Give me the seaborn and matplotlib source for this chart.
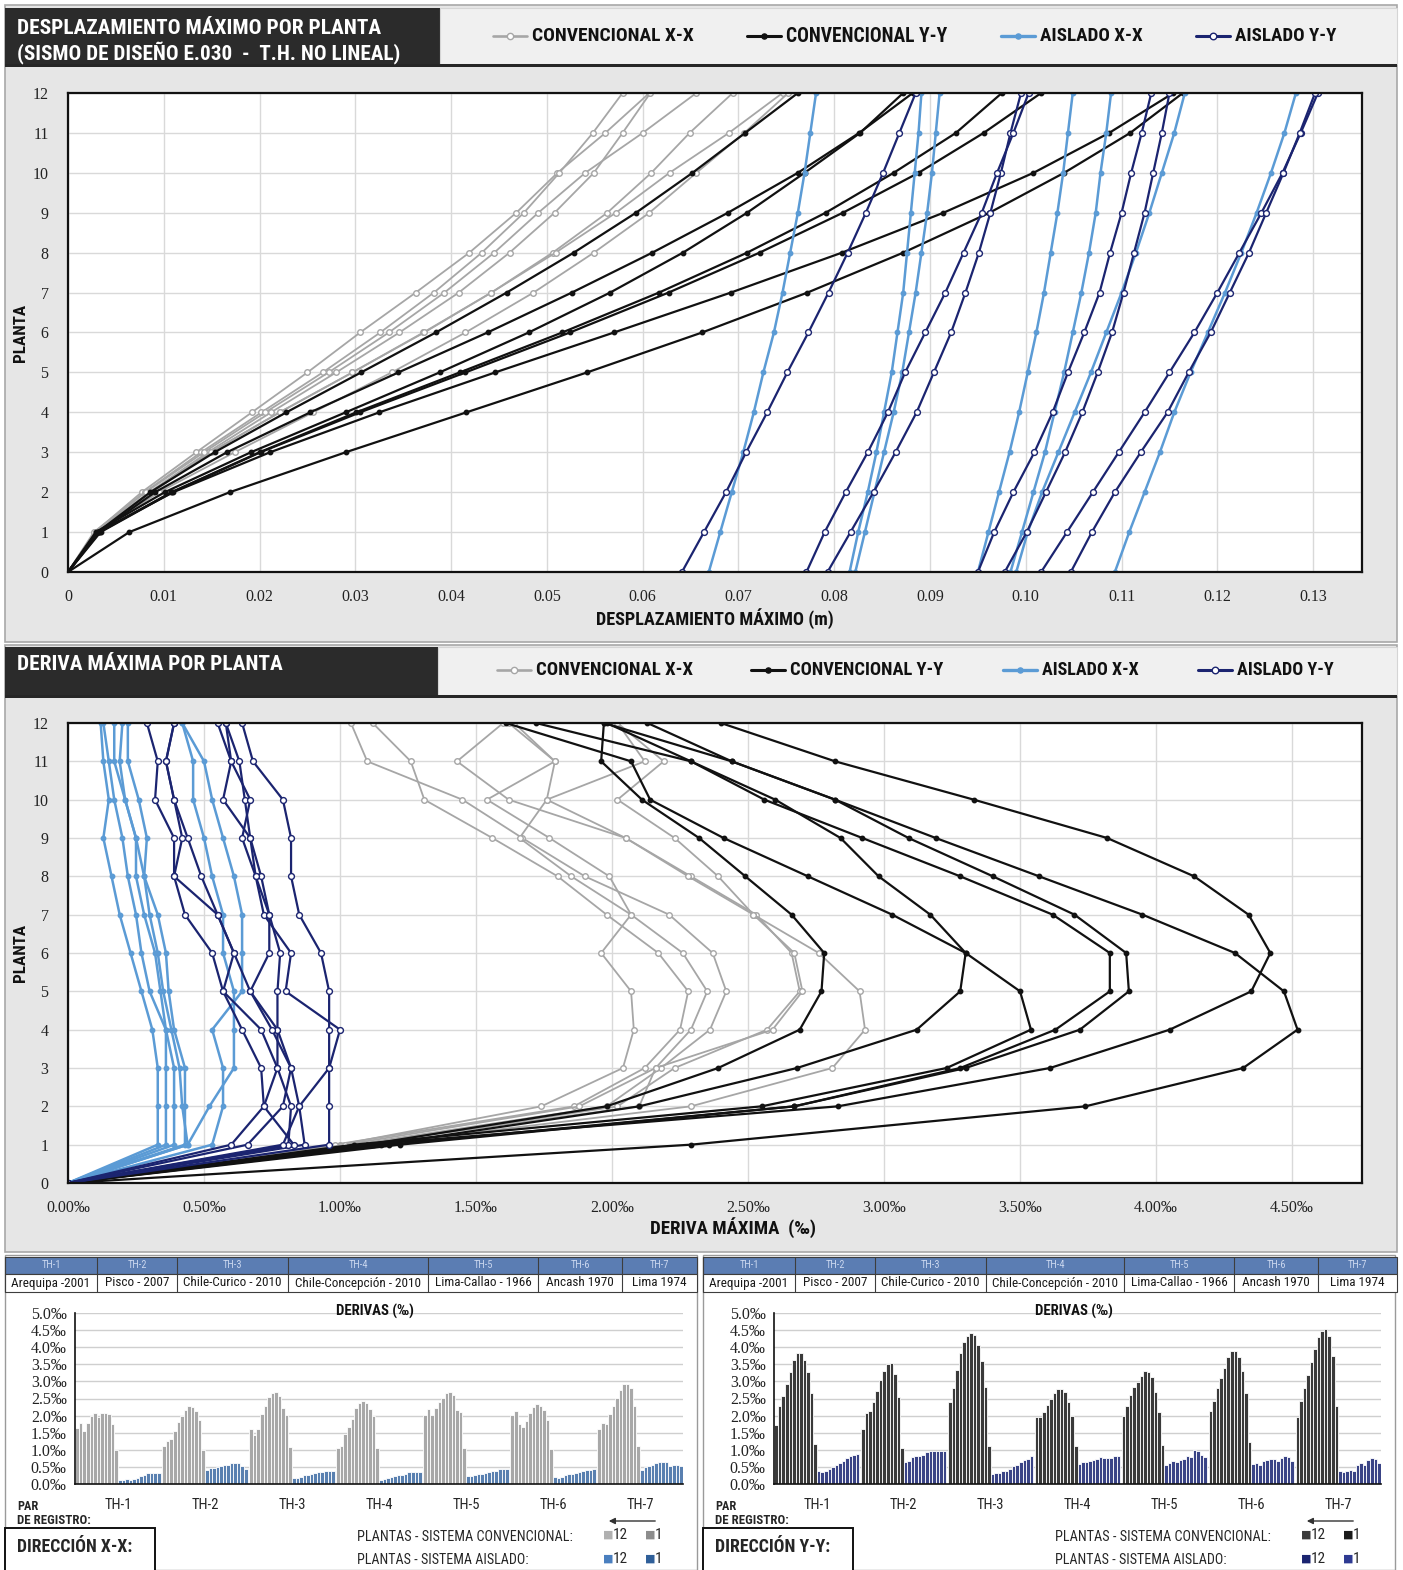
import numpy as np
import pandas as pd
import seaborn as sns
import matplotlib
matplotlib.use("Agg")
import matplotlib.pyplot as plt
from matplotlib import font_manager as fm
from matplotlib.patches import Rectangle, FancyArrowPatch
from matplotlib.lines import Line2D
from matplotlib.ticker import FuncFormatter, MultipleLocator

# ------------------------------------------------------------
# DATOS
# ------------------------------------------------------------
registros = ["TH-1", "TH-2", "TH-3", "TH-4", "TH-5", "TH-6", "TH-7"]
sismos = ["Arequipa -2001", "Pisco - 2007", "Chile-Curico - 2010", "Chile-Concepción - 2010",
          "Lima-Callao - 1966", "Ancash 1970", "Lima 1974"]
plantas = list(range(13))  # 0 .. 12

# derivas (‰), plantas 1..12
deriva_conv_xx = [
    [1.00, 1.74, 2.04, 2.08, 2.07, 1.96, 2.07, 1.99, 1.77, 1.54, 1.79, 1.64],
    [0.98, 1.86, 2.12, 2.25, 2.28, 2.17, 1.98, 1.80, 1.56, 1.31, 1.26, 1.12],
    [1.08, 2.02, 2.23, 2.57, 2.69, 2.66, 2.53, 2.29, 2.05, 1.62, 1.43, 1.60],
    [1.05, 1.98, 2.18, 2.36, 2.42, 2.37, 2.21, 1.90, 1.67, 1.45, 1.10, 1.04],
    [1.06, 2.10, 2.16, 2.59, 2.70, 2.67, 2.52, 2.39, 2.23, 2.02, 2.19, 2.02],
    [1.02, 1.88, 2.16, 2.29, 2.35, 2.26, 2.07, 1.85, 1.66, 1.76, 2.12, 2.02],
    [1.12, 2.29, 2.81, 2.93, 2.91, 2.76, 2.52, 2.28, 2.05, 1.76, 1.79, 1.62],
]
deriva_conv_yy = [
    [1.18, 2.67, 3.28, 3.63, 3.83, 3.83, 3.62, 3.28, 2.92, 2.56, 2.29, 1.72],
    [1.05, 2.55, 3.23, 3.54, 3.50, 3.30, 3.03, 2.72, 2.41, 2.14, 2.07, 1.61],
    [1.10, 2.83, 3.61, 4.05, 4.35, 4.42, 4.34, 4.14, 3.82, 3.33, 2.82, 2.40],
    [1.10, 1.98, 2.39, 2.69, 2.77, 2.78, 2.66, 2.49, 2.32, 2.11, 1.96, 1.97],
    [1.15, 2.10, 2.68, 3.12, 3.28, 3.30, 3.17, 2.98, 2.84, 2.60, 2.29, 1.98],
    [1.22, 2.67, 3.30, 3.72, 3.90, 3.89, 3.70, 3.40, 3.09, 2.82, 2.44, 2.13],
    [2.29, 3.74, 4.32, 4.52, 4.47, 4.29, 3.95, 3.57, 3.19, 2.82, 2.44, 1.97],
]
deriva_ais_xx = [
    [0.33, 0.33, 0.33, 0.31, 0.27, 0.23, 0.19, 0.16, 0.13, 0.15, 0.13, 0.12],
    [0.44, 0.52, 0.61, 0.61, 0.61, 0.57, 0.57, 0.53, 0.50, 0.46, 0.46, 0.42],
    [0.39, 0.39, 0.39, 0.36, 0.34, 0.32, 0.28, 0.25, 0.25, 0.21, 0.17, 0.17],
    [0.36, 0.36, 0.36, 0.36, 0.30, 0.27, 0.25, 0.22, 0.20, 0.17, 0.15, 0.13],
    [0.43, 0.43, 0.43, 0.39, 0.37, 0.36, 0.33, 0.28, 0.29, 0.26, 0.22, 0.22],
    [0.44, 0.42, 0.41, 0.38, 0.35, 0.33, 0.30, 0.28, 0.25, 0.21, 0.19, 0.20],
    [0.53, 0.57, 0.57, 0.53, 0.64, 0.64, 0.64, 0.61, 0.57, 0.53, 0.50, 0.42],
]
deriva_ais_yy = [
    [0.87, 0.85, 0.82, 0.77, 0.67, 0.61, 0.55, 0.49, 0.44, 0.39, 0.36, 0.39],
    [0.96, 0.96, 0.96, 0.96, 0.96, 0.93, 0.85, 0.82, 0.82, 0.79, 0.68, 0.64],
    [0.83, 0.72, 0.71, 0.64, 0.57, 0.53, 0.43, 0.39, 0.39, 0.32, 0.33, 0.29],
    [0.81, 0.82, 0.77, 0.77, 0.77, 0.78, 0.74, 0.71, 0.67, 0.65, 0.63, 0.58],
    [0.79, 0.85, 0.96, 1.00, 0.80, 0.82, 0.72, 0.69, 0.64, 0.67, 0.60, 0.55],
    [0.66, 0.79, 0.82, 0.75, 0.67, 0.74, 0.74, 0.69, 0.67, 0.57, 0.60, 0.58],
    [0.60, 0.72, 0.77, 0.71, 0.57, 0.61, 0.55, 0.39, 0.42, 0.39, 0.36, 0.39],
]

# desplazamientos (m), plantas 0..12
desp_conv_xx = [
    [0, 0.0028, 0.0077, 0.0134, 0.0192, 0.0250, 0.0305, 0.0363, 0.0419, 0.0468, 0.0511, 0.0561, 0.0607],
    [0, 0.0027, 0.0080, 0.0139, 0.0202, 0.0266, 0.0326, 0.0382, 0.0432, 0.0476, 0.0513, 0.0548, 0.0579],
    [0, 0.0030, 0.0087, 0.0149, 0.0221, 0.0297, 0.0371, 0.0442, 0.0506, 0.0563, 0.0609, 0.0649, 0.0694],
    [0, 0.0029, 0.0085, 0.0146, 0.0212, 0.0280, 0.0346, 0.0408, 0.0461, 0.0508, 0.0549, 0.0579, 0.0608],
    [0, 0.0030, 0.0088, 0.0149, 0.0221, 0.0297, 0.0372, 0.0442, 0.0509, 0.0572, 0.0628, 0.0690, 0.0746],
    [0, 0.0029, 0.0081, 0.0142, 0.0206, 0.0272, 0.0335, 0.0393, 0.0445, 0.0491, 0.0540, 0.0600, 0.0656],
    [0, 0.0031, 0.0095, 0.0174, 0.0256, 0.0338, 0.0415, 0.0486, 0.0549, 0.0607, 0.0656, 0.0706, 0.0752],
]
desp_conv_yy = [
    [0, 0.0033, 0.0108, 0.0200, 0.0301, 0.0409, 0.0516, 0.0617, 0.0709, 0.0791, 0.0862, 0.0927, 0.0975],
    [0, 0.0029, 0.0101, 0.0191, 0.0290, 0.0388, 0.0481, 0.0566, 0.0642, 0.0709, 0.0769, 0.0827, 0.0872],
    [0, 0.0031, 0.0110, 0.0211, 0.0325, 0.0446, 0.0570, 0.0692, 0.0808, 0.0914, 0.1008, 0.1087, 0.1154],
    [0, 0.0031, 0.0086, 0.0153, 0.0228, 0.0306, 0.0384, 0.0458, 0.0528, 0.0593, 0.0652, 0.0707, 0.0762],
    [0, 0.0032, 0.0091, 0.0166, 0.0253, 0.0345, 0.0438, 0.0526, 0.0610, 0.0689, 0.0762, 0.0826, 0.0882],
    [0, 0.0034, 0.0109, 0.0201, 0.0305, 0.0415, 0.0524, 0.0627, 0.0722, 0.0809, 0.0888, 0.0956, 0.1016],
    [0, 0.0064, 0.0169, 0.0290, 0.0416, 0.0542, 0.0662, 0.0772, 0.0872, 0.0962, 0.1040, 0.1109, 0.1164],
]
desp_ais_xx = [
    [0.0816, 0.0825, 0.0835, 0.0844, 0.0852, 0.0860, 0.0866, 0.0872, 0.0876, 0.0880, 0.0884, 0.0888, 0.0891],
    [0.0990, 0.1002, 0.1017, 0.1034, 0.1051, 0.1068, 0.1084, 0.1100, 0.1115, 0.1129, 0.1142, 0.1155, 0.1166],
    [0.0950, 0.0961, 0.0972, 0.0983, 0.0993, 0.1002, 0.1011, 0.1019, 0.1026, 0.1033, 0.1039, 0.1044, 0.1049],
    [0.0822, 0.0832, 0.0842, 0.0852, 0.0862, 0.0871, 0.0878, 0.0885, 0.0891, 0.0897, 0.0902, 0.0906, 0.0910],
    [0.0669, 0.0681, 0.0693, 0.0705, 0.0716, 0.0726, 0.0737, 0.0746, 0.0754, 0.0762, 0.0769, 0.0775, 0.0781],
    [0.0984, 0.0996, 0.1008, 0.1020, 0.1030, 0.1040, 0.1049, 0.1058, 0.1066, 0.1073, 0.1078, 0.1084, 0.1089],
    [0.1093, 0.1108, 0.1124, 0.1140, 0.1155, 0.1172, 0.1190, 0.1208, 0.1225, 0.1241, 0.1256, 0.1270, 0.1282],
]
desp_ais_yy = [
    [0.0793, 0.0817, 0.0841, 0.0864, 0.0886, 0.0904, 0.0922, 0.0937, 0.0951, 0.0963, 0.0974, 0.0984, 0.0995],
    [0.1016, 0.1043, 0.1070, 0.1097, 0.1124, 0.1150, 0.1176, 0.1200, 0.1223, 0.1246, 0.1268, 0.1287, 0.1305],
    [0.0978, 0.1001, 0.1021, 0.1041, 0.1059, 0.1075, 0.1090, 0.1102, 0.1113, 0.1124, 0.1133, 0.1142, 0.1150],
    [0.0641, 0.0664, 0.0687, 0.0708, 0.0730, 0.0751, 0.0773, 0.0794, 0.0814, 0.0833, 0.0851, 0.0868, 0.0885],
    [0.1047, 0.1069, 0.1093, 0.1120, 0.1148, 0.1170, 0.1193, 0.1213, 0.1233, 0.1251, 0.1269, 0.1286, 0.1302],
    [0.0771, 0.0790, 0.0812, 0.0835, 0.0856, 0.0874, 0.0895, 0.0916, 0.0935, 0.0954, 0.0970, 0.0987, 0.1003],
    [0.0950, 0.0967, 0.0987, 0.1009, 0.1028, 0.1044, 0.1061, 0.1077, 0.1088, 0.1100, 0.1110, 0.1121, 0.1131],
]

# ------------------------------------------------------------
# ESTILO / FUENTES
# ------------------------------------------------------------
sns.set_theme(style="white")

entries = [(f.name, f.stretch) for f in fm.fontManager.ttflist]
names = {n for n, _ in entries}
NARROW_NAME, STRETCH = "Liberation Sans", "normal"
for cand in ["Liberation Sans Narrow", "Roboto Condensed", "Open Sans Condensed",
             "Noto Sans Condensed", "DejaVu Sans Condensed", "Arial Narrow"]:
    if cand in names:
        NARROW_NAME = cand
        break
else:
    for fam in ["Noto Sans", "Roboto", "Open Sans", "DejaVu Sans"]:
        if (fam, "condensed") in entries:
            NARROW_NAME, STRETCH = fam, "condensed"
            break
NARROW = [NARROW_NAME, "DejaVu Sans"]
SERIF = ["Liberation Serif", "DejaVu Serif"]
plt.rcParams["font.family"] = NARROW
plt.rcParams["font.stretch"] = STRETCH

C_CXX = "#a6a6a6"
C_CYY = "#111111"
C_AXX = "#5b9bd5"
C_AYY = "#1b2470"
GRID = "#d9d9d9"

W, H = 1403, 1570
fig = plt.figure(figsize=(W / 100, H / 100), dpi=100)
fig.patch.set_facecolor("white")
renderer = fig.canvas.get_renderer()


def fx(x):
    return x / W


def fy(y):
    return 1 - y / H


def box(x0, y0, x1, y1, fc, ec="none", lw=0.0, z=-2):
    fig.add_artist(Rectangle((fx(x0), fy(y1)), (x1 - x0) / W, (y1 - y0) / H,
                             transform=fig.transFigure, facecolor=fc,
                             edgecolor=ec, linewidth=lw, zorder=z))


def txt(x, y, s, width=None, size=10, rot=0, **kw):
    kw.setdefault("family", NARROW)
    kw.setdefault("fontstretch", STRETCH)
    t = fig.text(fx(x), fy(y), s, fontsize=size, **kw)
    if width is not None:
        w = t.get_window_extent(renderer).width
        if w > 0:
            t.set_fontsize(size * width / w)
    if rot:
        t.set_rotation(rot)
    return t


def axes_px(x0, y0, x1, y1):
    return fig.add_axes([fx(x0), fy(y1), (x1 - x0) / W, (y1 - y0) / H])


def to_long(nested):
    rows = []
    for reg, vals in zip(registros, nested):
        for p, v in zip(plantas, vals):
            rows.append((reg, p, v))
    return pd.DataFrame(rows, columns=["registro", "planta", "valor"])


series_style = [
    (C_CXX, 1.3, "white", 4.0),
    (C_CYY, 1.6, C_CYY, 3.2),
    (C_AXX, 1.8, C_AXX, 3.2),
    (C_AYY, 1.6, "white", 4.2),
]


def draw_lines(ax, datasets):
    for data, (c, lw, mfc, ms) in zip(datasets, series_style):
        sns.lineplot(data=to_long(data), x="valor", y="planta", units="registro",
                     estimator=None, sort=False, orient="y", color=c, lw=lw,
                     marker="o", ms=ms, mfc=mfc, mec=c, mew=1.0, legend=False, ax=ax)


def style_line_axes(ax, xmax, step, fmt):
    ax.set_facecolor("white")
    ax.set_xlim(0, xmax)
    ax.set_ylim(0, 12)
    ax.xaxis.set_major_locator(MultipleLocator(step))
    ax.yaxis.set_major_locator(MultipleLocator(1))
    ax.xaxis.set_major_formatter(FuncFormatter(fmt))
    ax.grid(True, color=GRID, lw=1.0)
    ax.set_axisbelow(True)
    for s in ax.spines.values():
        s.set_color("#111111")
        s.set_linewidth(1.6)
    ax.tick_params(axis="x", length=4, color="#555555", pad=8)
    ax.tick_params(axis="y", length=0, pad=14)
    for lab in ax.get_xticklabels() + ax.get_yticklabels():
        lab.set_family(SERIF)
        lab.set_fontstretch("normal")
        lab.set_fontsize(11.5)
        lab.set_color("#222222")
    ax.set_xlabel("")
    ax.set_ylabel("")


def legend_strip(y, items):
    for (x0, x1, label), (c, lw, mfc, ms) in zip(items, series_style):
        fig.add_artist(Line2D([fx(x0), fx(x0 + 17), fx(x0 + 34)], [fy(y)] * 3,
                              transform=fig.transFigure, color=c, lw=lw + 0.6,
                              marker="o", markevery=[1], ms=ms + 0.5, mfc=mfc,
                              mec=c, zorder=3))
        txt(x0 + 39, y, label, width=x1 - x0 - 39, size=14, fontweight="bold",
            va="center", color="#111111", zorder=3)


# ------------------------------------------------------------
# 1. DESPLAZAMIENTO MAXIMO POR PLANTA
# ------------------------------------------------------------
box(5, 5, 1397, 642, "#e6e6e6", ec="#a8a8a8", lw=1.2)
box(5, 8, 440, 64, "#2b2b2b")
box(440, 8, 1397, 64, "#f0f0f0", ec="#d5d5d5", lw=0.8)
box(5, 64, 1397, 66.5, "#262626")
txt(17, 28, "DESPLAZAMIENTO MÁXIMO POR PLANTA", width=365, size=15, color="white",
    fontweight="bold", va="center")
txt(17, 53, "(SISMO DE DISEÑO E.030  -  T.H. NO LINEAL)", width=384, size=15, color="white",
    fontweight="bold", va="center")
legend_strip(36, [(493, 694, "CONVENCIONAL X-X"), (747, 948, "CONVENCIONAL Y-Y"),
                  (1001, 1143, "AISLADO X-X"), (1196, 1337, "AISLADO Y-Y")])

ax1 = axes_px(68, 93, 1362, 572)
draw_lines(ax1, [desp_conv_xx, desp_conv_yy, desp_ais_xx, desp_ais_yy])
style_line_axes(ax1, 0.1351, 0.01, lambda v, p: "0" if abs(v) < 1e-9 else f"{v:.2f}")
txt(715, 619, "DESPLAZAMIENTO MÁXIMO (m)", width=237, size=12, fontweight="bold",
    ha="center", va="center", color="#111111")
txt(20, 333, "PLANTA", width=58, size=12, rot=90, fontweight="bold",
    ha="center", va="center", color="#111111")

# ------------------------------------------------------------
# 2. DERIVA MAXIMA POR PLANTA
# ------------------------------------------------------------
box(5, 645, 1397, 1252, "#e6e6e6", ec="#a8a8a8", lw=1.2)
box(5, 647, 438, 695, "#2b2b2b")
box(438, 647, 1397, 695, "#f0f0f0", ec="#d5d5d5", lw=0.8)
box(5, 695, 1397, 697.5, "#262626")
txt(17, 665, "DERIVA MÁXIMA POR PLANTA", width=267, size=15, color="white",
    fontweight="bold", va="center")
legend_strip(670, [(497, 692, "CONVENCIONAL X-X"), (751, 944, "CONVENCIONAL Y-Y"),
                   (1003, 1139, "AISLADO X-X"), (1198, 1334, "AISLADO Y-Y")])

ax2 = axes_px(68, 723, 1362, 1183)
draw_lines(ax2, [[[0.0] + v for v in d] for d in
                 (deriva_conv_xx, deriva_conv_yy, deriva_ais_xx, deriva_ais_yy)])
style_line_axes(ax2, 4.757, 0.5, lambda v, p: f"{v:.2f}‰")
txt(733, 1228, "DERIVA MÁXIMA  (‰)", width=165, size=12, fontweight="bold",
    ha="center", va="center", color="#111111")
txt(20, 953, "PLANTA", width=58, size=12, rot=90, fontweight="bold",
    ha="center", va="center", color="#111111")

# ------------------------------------------------------------
# 3. BARRAS DE DERIVAS POR REGISTRO
# ------------------------------------------------------------
paneles = [
    (0, [5, 97, 177, 288, 428, 538, 622, 697], 75, 683, deriva_conv_xx, deriva_ais_xx,
     "#a8a8a8", "#4a7fbf", "DIRECCIÓN X-X:", ("#b0b0b0", "#8c8c8c", "#4a7fbf", "#2f5f99")),
    (698, [703, 795, 875, 986, 1124, 1234, 1318, 1397], 774, 1381, deriva_conv_yy, deriva_ais_yy,
     "#3a3a3a", "#2e3a92", "DIRECCIÓN Y-Y:", ("#3a3a3a", "#1a1a1a", "#1b2470", "#2e3a92")),
]
for ox, cols, ax_l, ax_r, conv, ais, c_conv, c_ais, direccion, sq in paneles:
    box(5 + ox, 1255, 697 + ox, 1570, "white", ec="#9a9a9a", lw=1.0)
    box(cols[0], 1257, cols[-1], 1273.5, "#5b7db3", ec="#3d3d3d", lw=0.8, z=-1)
    box(cols[0], 1273.5, cols[-1], 1292, "white", ec="#3d3d3d", lw=0.8, z=-1)
    for i in range(7):
        fig.add_artist(Line2D([fx(cols[i])] * 2, [fy(1257), fy(1292)], transform=fig.transFigure,
                              color="#3d3d3d", lw=0.8, zorder=-1))
        xc = (cols[i] + cols[i + 1]) / 2
        txt(xc, 1265, registros[i], size=7.5, ha="center", va="center", color="#c9d6ee")
        t = txt(xc, 1283, sismos[i], size=9.5, ha="center", va="center", color="#1a1a1a")
        w = t.get_window_extent(renderer).width
        lim = cols[i + 1] - cols[i] - 9
        if w > lim:
            t.set_fontsize(9.5 * lim / w)

    rows = []
    for g in range(7):
        for i, v in enumerate(conv[g][::-1]):
            rows.append((g * 24.5 + i, v, "conv"))
        for i, v in enumerate(ais[g][::-1]):
            rows.append((g * 24.5 + 12 + i, v, "ais"))
    dfb = pd.DataFrame(rows, columns=["pos", "valor", "sistema"])

    axb = axes_px(ax_l, 1313, ax_r, 1484)
    sns.barplot(data=dfb, x="pos", y="valor", hue="sistema", native_scale=True,
                palette={"conv": c_conv, "ais": c_ais}, dodge=False, width=1.0,
                edgecolor="white", linewidth=0.6, errorbar=None, legend=False, ax=axb)
    axb.set_xlim(-0.6, 6 * 24.5 + 23.6)
    axb.set_ylim(0, 5)
    axb.yaxis.set_major_locator(MultipleLocator(0.5))
    axb.yaxis.set_major_formatter(FuncFormatter(lambda v, p: f"{v:.1f}‰"))
    axb.set_xticks([g * 24.5 + 11.5 for g in range(7)])
    axb.set_xticklabels(registros)
    axb.grid(axis="y", color="#cfcfcf", lw=1.0)
    axb.set_axisbelow(True)
    for s in ("top", "right"):
        axb.spines[s].set_visible(False)
    for s in ("left", "bottom"):
        axb.spines[s].set_color("#111111")
        axb.spines[s].set_linewidth(1.2)
    axb.tick_params(axis="x", length=0, pad=10, labelsize=10.5)
    axb.tick_params(axis="y", length=0, pad=6)
    for lab in axb.get_yticklabels():
        lab.set_family(SERIF)
        lab.set_fontstretch("normal")
        lab.set_fontsize(11.5)
        lab.set_color("#222222")
    axb.set_xlabel("")
    axb.set_ylabel("")
    txt((ax_l + ax_r) / 2 - 4, 1311, "DERIVAS (‰)", width=78, size=10, fontweight="bold",
        ha="center", va="center", color="#111111")

    txt(17 + ox, 1506, "PAR", width=21, size=8, fontweight="bold", va="center")
    txt(17 + ox, 1521, "DE REGISTRO:", width=73, size=8, fontweight="bold", va="center")
    box(5 + ox, 1528, 155 + ox, 1572, "white", ec="#111111", lw=1.4, z=-1)
    txt(17 + ox, 1547, direccion, width=115, size=13, fontweight="bold", va="center")
    txt(357 + ox, 1537, "PLANTAS - SISTEMA CONVENCIONAL:", width=215, size=10, va="center")
    txt(357 + ox, 1560, "PLANTAS - SISTEMA AISLADO:", width=170, size=10, va="center")
    for (x, yy, c, lab) in [(603, 1535, sq[0], "12"), (645, 1535, sq[1], "1"),
                            (603, 1559, sq[2], "12"), (645, 1559, sq[3], "1")]:
        txt(x + ox, yy, "■", size=8, color=c, va="center", family=["DejaVu Sans"],
            fontstretch="normal")
        txt(x + ox + 10, yy, lab, size=11, va="center")
    fig.add_artist(FancyArrowPatch((fx(658 + ox), fy(1521)), (fx(606 + ox), fy(1521)),
                                   transform=fig.transFigure, arrowstyle="-|>",
                                   mutation_scale=9, color="#333333", lw=1.0))

fig.savefig("out.png", dpi=100)
